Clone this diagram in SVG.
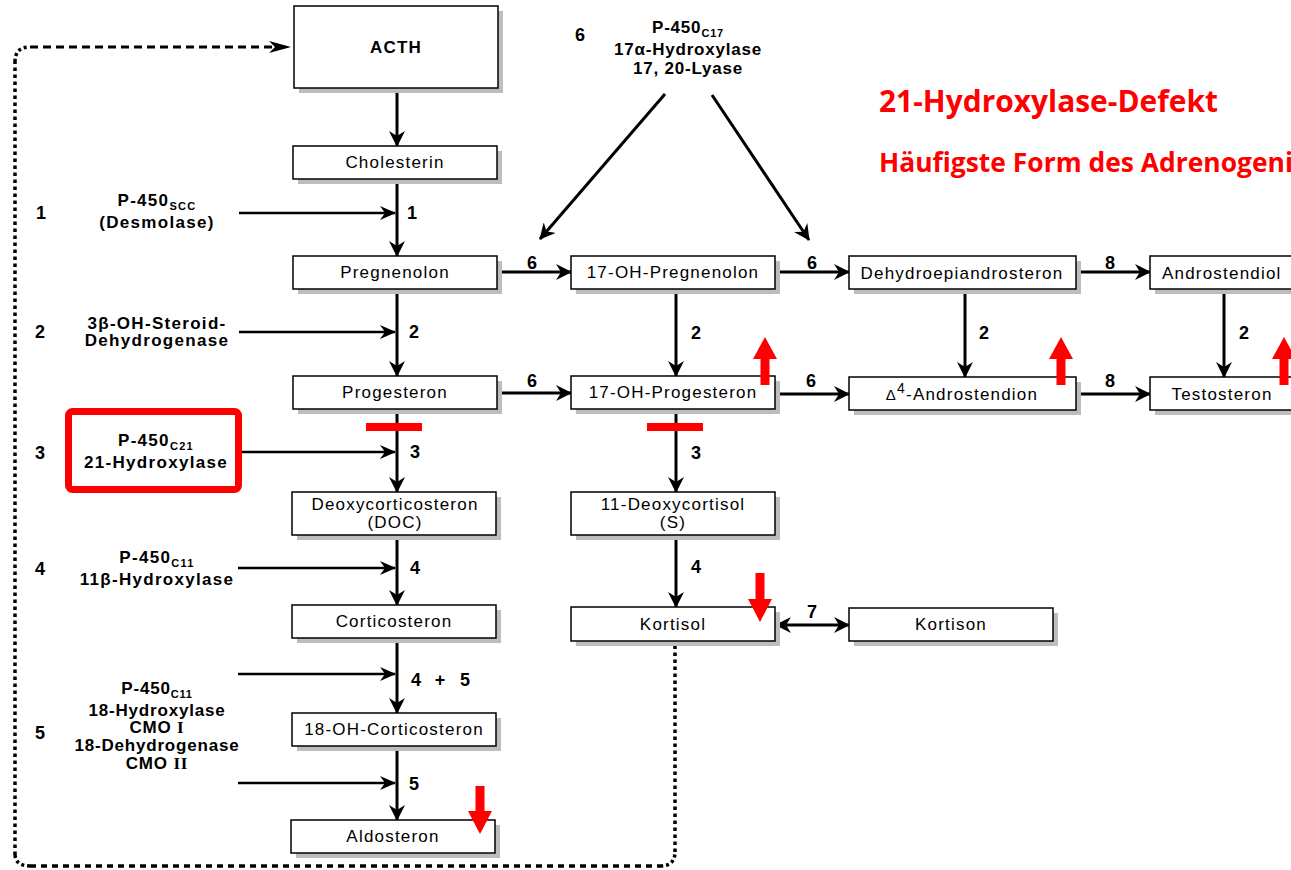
<svg xmlns="http://www.w3.org/2000/svg" width="1291" height="870" viewBox="0 0 1291 870">
<defs>
<style>
.box{fill:#fff;stroke:#000;stroke-width:1.5}
.sh{fill:#bdbdbd}
.nt{font-family:"Liberation Sans",Arial,sans-serif;font-size:17px;letter-spacing:1.2px;text-anchor:middle;fill:#000}
.nts{font-family:"Liberation Sans",Arial,sans-serif;font-size:17px;letter-spacing:1.2px;text-anchor:start;fill:#000}
.en{font-family:"Liberation Sans",Arial,sans-serif;font-weight:bold;font-size:17px;letter-spacing:1.3px;text-anchor:middle;fill:#000}
.ct{font-family:"Liberation Sans",Arial,sans-serif;font-weight:bold;font-size:17px;letter-spacing:0.8px;text-anchor:middle;fill:#000}
.num{font-family:"Liberation Sans",Arial,sans-serif;font-weight:bold;font-size:18px;text-anchor:middle;fill:#000}
.sub{font-size:11px}
.ln{stroke:#000;stroke-width:3;fill:none;marker-end:url(#ah)}
.ez{stroke:#000;stroke-width:2.5;fill:none;marker-end:url(#ah2)}
.red{fill:#ff0000}
.title{font-family:"Open Sans","Liberation Sans",sans-serif;font-weight:bold;fill:#ff0000}
.dot{stroke:#000;stroke-width:3.5;fill:none}
</style>
<marker id="ah" viewBox="0 0 16 16" markerWidth="16" markerHeight="16" refX="15" refY="8" orient="auto" markerUnits="userSpaceOnUse"><path d="M0,0 L16,8 L0,16 L5,8 z" fill="#000"/></marker>
<marker id="ah2" viewBox="0 0 16 14" markerWidth="16" markerHeight="14" refX="15" refY="7" orient="auto" markerUnits="userSpaceOnUse"><path d="M0,0 L16,7 L0,14 L5,7 z" fill="#000"/></marker>
<marker id="ahs" viewBox="0 0 16 16" markerWidth="16" markerHeight="16" refX="1" refY="8" orient="auto" markerUnits="userSpaceOnUse"><path d="M16,0 L0,8 L16,16 L11,8 z" fill="#000"/></marker>
<marker id="ahd" viewBox="0 0 22 12" markerWidth="22" markerHeight="12" refX="21" refY="6" orient="auto" markerUnits="userSpaceOnUse"><path d="M0,0 L22,6 L0,12 L6,6 z" fill="#000"/></marker>
</defs>
<rect width="1291" height="870" fill="#fff"/>

<g id="connectors">
<path class="dot" d="M15,855 L15,62" stroke-dasharray="3.5 3.5"/>
<path class="dot" d="M15,62 Q15,48 28,47" stroke-dasharray="3 3"/>
<path d="M30,47 L290,47" stroke="#000" stroke-width="3" stroke-dasharray="8 5" fill="none" marker-end="url(#ahd)"/>
<path class="dot" d="M15,855 Q16,866 30,866" stroke-dasharray="3 3"/>
<path class="dot" d="M30,866 L660,866" stroke-dasharray="6 5"/>
<path class="dot" d="M660,866 Q675,866 675,852" stroke-dasharray="3 3"/>
<path class="dot" d="M675,852 L675,642" stroke-dasharray="3.5 3.5"/>
<path class="ln" d="M397,88 L397,146"/>
<path class="ln" d="M397,179 L397,256"/>
<path class="ln" d="M397,289 L397,376"/>
<path class="ln" d="M397,409 L397,492"/>
<path class="ln" d="M397,535 L397,605"/>
<path class="ln" d="M397,638 L397,713"/>
<path class="ln" d="M397,746 L397,820"/>
<path class="ez" d="M239,213 L395,213"/>
<path class="ez" d="M239,332 L395,332"/>
<path class="ez" d="M242,452 L395,452"/>
<path class="ez" d="M238,568 L395,568"/>
<path class="ez" d="M238,674 L395,674"/>
<path class="ez" d="M238,783 L395,783"/>
<path class="ln" d="M676,289 L676,376"/>
<path class="ln" d="M676,410 L676,492"/>
<path class="ln" d="M676,535 L676,607"/>
<path class="ln" d="M965,289 L965,377"/>
<path class="ln" d="M1224,289 L1224,377"/>
<path class="ln" d="M497,272 L571,272"/>
<path class="ln" d="M775,272 L849,272"/>
<path class="ln" d="M1076,272 L1150,272"/>
<path class="ln" d="M497,393 L571,393"/>
<path class="ln" d="M775,394 L849,394"/>
<path class="ln" d="M1076,394 L1150,394"/>
<path class="ln" d="M776,625 L849,625" marker-start="url(#ahs)"/>
<path class="ln" d="M665,94 L540,239"/>
<path class="ln" d="M712,95 L809,240"/>
</g>

<g id="labels-steps">
<text class="num" x="412" y="219">1</text>
<text class="num" x="414" y="338">2</text>
<text class="num" x="415" y="458">3</text>
<text class="num" x="415" y="574">4</text>
<text class="num" y="686"><tspan x="416">4</tspan><tspan x="440">+</tspan><tspan x="465">5</tspan></text>
<text class="num" x="414" y="790">5</text>
<text class="num" x="532" y="269">6</text>
<text class="num" x="812" y="269">6</text>
<text class="num" x="1110" y="269">8</text>
<text class="num" x="532" y="387">6</text>
<text class="num" x="811" y="387">6</text>
<text class="num" x="1110" y="387">8</text>
<text class="num" x="696" y="339">2</text>
<text class="num" x="984" y="339">2</text>
<text class="num" x="1244" y="339">2</text>
<text class="num" x="696" y="459">3</text>
<text class="num" x="696" y="573">4</text>
<text class="num" x="812" y="618">7</text>
</g>

<g id="enzyme-1">
<text class="num" x="41" y="219">1</text>
<text class="en" x="157" y="206">P-450<tspan class="sub" dy="4">SCC</tspan></text>
<text class="en" x="157" y="228">(Desmolase)</text>
</g>
<g id="enzyme-2">
<text class="num" x="40" y="338">2</text>
<text class="en" x="157" y="329">3β-OH-Steroid-</text>
<text class="en" x="157" y="346">Dehydrogenase</text>
</g>
<g id="enzyme-3">
<rect x="68.5" y="411.5" width="170" height="78" rx="4" fill="none" stroke="#ff0000" stroke-width="7"/>
<text class="num" x="40" y="459">3</text>
<text class="en" x="156" y="446">P-450<tspan class="sub" dy="4">C21</tspan></text>
<text class="en" x="156" y="468">21-Hydroxylase</text>
</g>
<g id="enzyme-4">
<text class="num" x="40" y="575">4</text>
<text class="en" x="157" y="563">P-450<tspan class="sub" dy="4">C11</tspan></text>
<text class="en" x="157" y="585">11β-Hydroxylase</text>
</g>
<g id="enzyme-5">
<text class="num" x="40" y="739">5</text>
<text class="ct" x="157" y="694">P-450<tspan class="sub" dy="4">C11</tspan></text>
<text class="ct" x="157" y="716">18-Hydroxylase</text>
<text class="ct" x="157" y="733">CMO <tspan font-family="Liberation Serif,serif">I</tspan></text>
<text class="ct" x="157" y="751">18-Dehydrogenase</text>
<text class="ct" x="157" y="769">CMO <tspan font-family="Liberation Serif,serif">II</tspan></text>
</g>
<g id="enzyme-6">
<text class="num" x="580" y="41">6</text>
<text class="ct" x="688" y="33">P-450<tspan class="sub" dy="4">C17</tspan></text>
<text class="ct" x="688" y="55">17α-Hydroxylase</text>
<text class="ct" x="688" y="74">17, 20-Lyase</text>
</g>

<g id="acth"><rect class="sh" x="299" y="11" width="204" height="82"/><rect class="box" x="294" y="6" width="204" height="82"/><text class="nt" x="396" y="53" font-weight="bold" font-size="18" letter-spacing="0.5">ACTH</text></g>
<g id="cholesterin"><rect class="sh" x="298" y="151" width="204" height="33"/><rect class="box" x="293" y="146" width="204" height="33"/><text class="nt" x="395" y="168">Cholesterin</text></g>
<g id="pregnenolon"><rect class="sh" x="298" y="261" width="204" height="33"/><rect class="box" x="293" y="256" width="204" height="33"/><text class="nt" x="395" y="278">Pregnenolon</text></g>
<g id="progesteron"><rect class="sh" x="298" y="381" width="204" height="33"/><rect class="box" x="293" y="376" width="204" height="33"/><text class="nt" x="395" y="398">Progesteron</text></g>
<g id="doc"><rect class="sh" x="297" y="497" width="204" height="43"/><rect class="box" x="292" y="492" width="204" height="43"/><text class="nt" x="395" y="510">Deoxycorticosteron</text><text class="nt" x="395" y="528">(DOC)</text></g>
<g id="corticosteron"><rect class="sh" x="297" y="610" width="204" height="33"/><rect class="box" x="292" y="605" width="204" height="33"/><text class="nt" x="394" y="627">Corticosteron</text></g>
<g id="oh18-corticosteron"><rect class="sh" x="297" y="718" width="204" height="33"/><rect class="box" x="292" y="713" width="204" height="33"/><text class="nt" x="394" y="735">18-OH-Corticosteron</text></g>
<g id="aldosteron"><rect class="sh" x="296" y="825" width="204" height="33"/><rect class="box" x="291" y="820" width="204" height="33"/><text class="nt" x="393" y="842">Aldosteron</text></g>

<g id="oh17-pregnenolon"><rect class="sh" x="576" y="261" width="204" height="33"/><rect class="box" x="571" y="256" width="204" height="33"/><text class="nt" x="673" y="278">17-OH-Pregnenolon</text></g>
<g id="oh17-progesteron"><rect class="sh" x="576" y="381" width="204" height="33"/><rect class="box" x="571" y="376" width="204" height="33"/><text class="nt" x="673" y="398">17-OH-Progesteron</text></g>
<g id="deoxycortisol"><rect class="sh" x="576" y="497" width="204" height="43"/><rect class="box" x="571" y="492" width="204" height="43"/><text class="nt" x="673" y="510">11-Deoxycortisol</text><text class="nt" x="673" y="528">(S)</text></g>
<g id="kortisol"><rect class="sh" x="576" y="612" width="204" height="34"/><rect class="box" x="571" y="607" width="204" height="34"/><text class="nt" x="673" y="630">Kortisol</text></g>
<g id="dhea"><rect class="sh" x="854" y="261" width="227" height="33"/><rect class="box" x="849" y="256" width="227" height="33"/><text class="nt" x="962" y="279">Dehydroepiandrosteron</text></g>
<g id="androstendion"><rect class="sh" x="854" y="382" width="227" height="33"/><rect class="box" x="849" y="377" width="227" height="33"/><text class="nt" x="962" y="400"><tspan font-size="15">Δ</tspan><tspan font-size="14" dy="-7">4</tspan><tspan dy="7">-Androstendion</tspan></text></g>
<g id="kortison"><rect class="sh" x="854" y="613" width="204" height="33"/><rect class="box" x="849" y="608" width="204" height="33"/><text class="nt" x="951" y="630">Kortison</text></g>
<g id="androstendiol"><rect class="sh" x="1155" y="261" width="160" height="33"/><rect class="box" x="1150" y="256" width="160" height="33"/><text class="nts" x="1162" y="279">Androstendiol</text></g>
<g id="testosteron"><rect class="sh" x="1155" y="382" width="160" height="33"/><rect class="box" x="1150" y="377" width="160" height="33"/><text class="nt" x="1222" y="400">Testosteron</text></g>

<g id="annotations">
<rect class="red" x="366" y="423" width="56" height="8"/>
<rect class="red" x="647" y="423" width="56" height="8"/>
<path class="red" d="M760.5,385 L760.5,359 L753,359 L765,337 L777,359 L769.5,359 L769.5,385 z"/>
<path class="red" d="M1056.5,385 L1056.5,359 L1049,359 L1061,337 L1073,359 L1065.5,359 L1065.5,385 z"/>
<path class="red" d="M1279.5,385 L1279.5,359 L1272,359 L1284,337 L1296,359 L1288.5,359 L1288.5,385 z"/>
<path class="red" d="M755.5,573 L755.5,599 L748,599 L760,622 L772,599 L764.5,599 L764.5,573 z"/>
<path class="red" d="M475.5,786 L475.5,811 L468,811 L480,834 L492,811 L484.5,811 L484.5,786 z"/>
<text class="title" x="879" y="112" font-size="30" textLength="339" lengthAdjust="spacingAndGlyphs">21-Hydroxylase-Defekt</text>
<text class="title" x="879" y="172" font-size="26" textLength="414" lengthAdjust="spacingAndGlyphs">Häufigste Form des Adrenogeni</text>
</g>
</svg>
